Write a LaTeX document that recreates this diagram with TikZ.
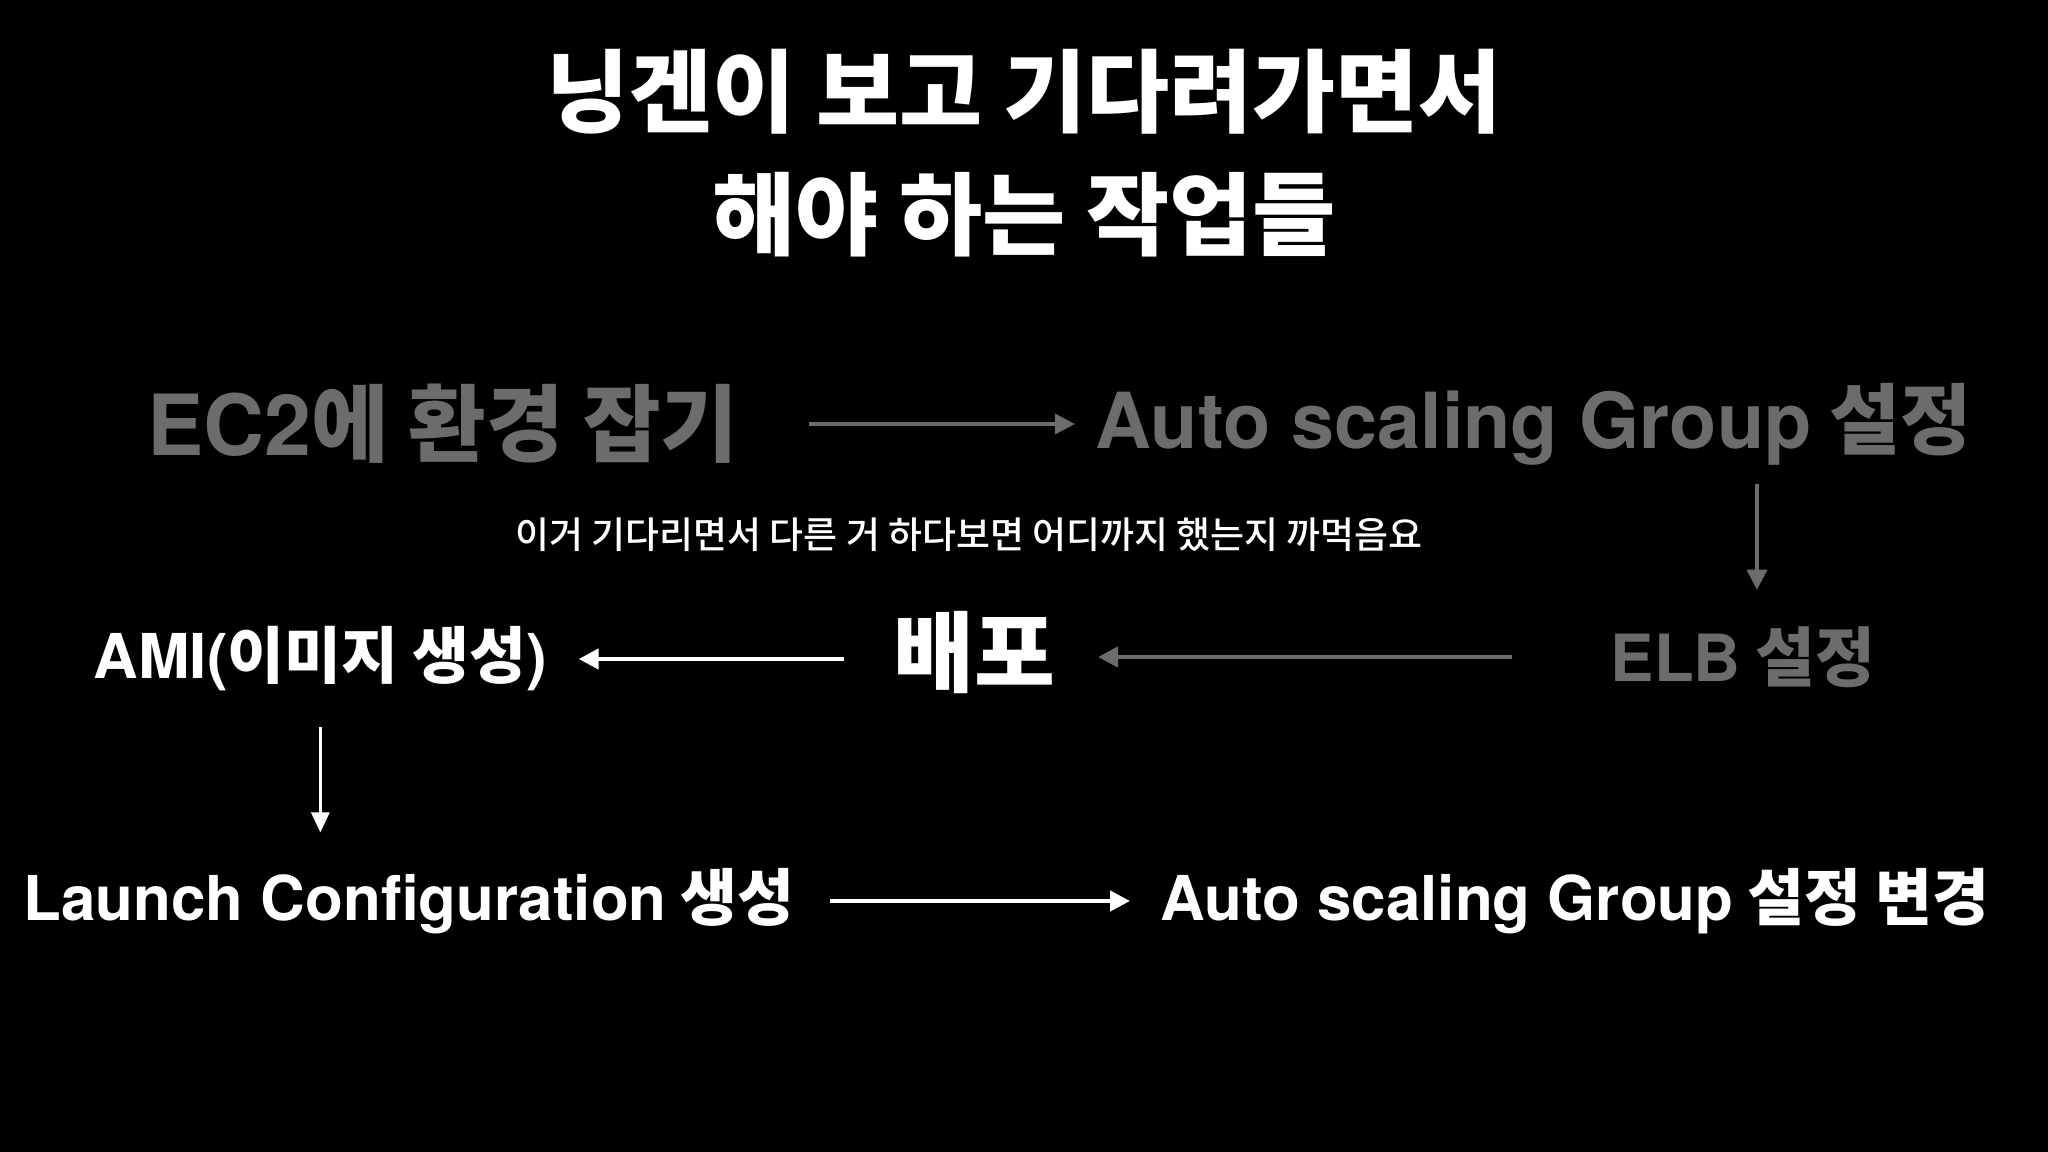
\documentclass[tikz,border=0pt]{standalone}
\usepackage{fontspec}
\setmainfont{Noto Sans CJK KR}
\newfontfamily\middel{Noto Sans CJK KR Medium}
\newfontfamily\latin{TeX Gyre Heros}
\usetikzlibrary{arrows.meta}
\definecolor{graa}{RGB}{108,108,108}

\begin{document}
\begin{tikzpicture}
   [
    every node/.style={inner sep=0pt},
    titel/.style={text=white, align=center,
                  font=\bfseries\fontsize{25.7}{35}\selectfont},
    undertekst/.style={text=white, font=\middel\fontsize{10.5}{12}\selectfont},
    trin/.style={text=white, anchor=west,
                 font=\bfseries\fontsize{17.6}{21}\selectfont},
    svag/.style={text=graa, anchor=west,
                 font=\bfseries\fontsize{22}{26}\selectfont},
    stor/.style={text=white, anchor=west,
                 font=\bfseries\fontsize{25}{30}\selectfont},
    pil/.style={-{Triangle[length=2mm, width=2mm]}, draw=white,
                line width=1.3pt},
    svagpil/.style={pil, draw=graa},
    tyndpil/.style={-{Triangle[length=2mm, width=1.8mm]}, draw=white,
                    line width=0.8pt}
    ]

% baggrund
\fill[black] (0,0) rectangle (20.48,-11.52);
\useasboundingbox (0,0) rectangle (20.48,-11.52);

\node[titel] (titel) at (10.24,-1.53) {닝겐이 보고 기다려가면서\\해야 하는 작업들};

% første række
\node[svag, font=\bfseries\fontsize{24}{28}\selectfont] (ec2)
    at (1.47,-4.24) {{\latin EC2}에 환경 잡기};
\node[svag] (asg1) at (10.95,-4.24) {{\latin Auto scaling Group} 설정};
\node[undertekst] (note) at (9.69,-5.35)
    {이거 기다리면서 다른 거 하다보면 어디까지 했는지 까먹음요};

% anden række
\node[svag, font=\bfseries\fontsize{18.5}{22}\selectfont] (elb)
    at (16.10,-6.57) {{\latin ELB} 설정};
\node[stor] (baepo) at (8.93,-6.53) {배포};
\node[trin] (ami) at (0.93,-6.59) {{\latin AMI(}이미지 생성{\latin )}};

% tredje række
\node[trin] (lc) at (0.23,-9.01) {{\latin Launch Configuration} 생성};
\node[trin] (asg2) at (11.60,-9.01) {{\latin Auto scaling Group} 설정 변경};

% pile
\draw[svagpil, line width=1pt, shorten <=7mm, shorten >=2mm]
    (ec2.east) -- (asg1.west);
\draw[svagpil, line width=1pt, shorten <=1.85mm, shorten >=3.6mm]
    ([xshift=1.4mm]elb.north |- asg1.south) -- ([xshift=1.4mm]elb.north);
\draw[svagpil, shorten <=9.8mm, shorten >=4.2mm]
    (elb.west) -- (baepo.east |- elb.west);
\draw[pil, shorten <=4.9mm, shorten >=3.1mm]
    (baepo.west |- ami.east) -- (ami.east);
\draw[tyndpil, shorten <=3.5mm, shorten >=3.5mm]
    (ami.south) -- (ami.south |- lc.north);
\draw[pil, shorten <=3.5mm, shorten >=3mm]
    (lc.east) -- (asg2.west);

\end{tikzpicture}
\end{document}
